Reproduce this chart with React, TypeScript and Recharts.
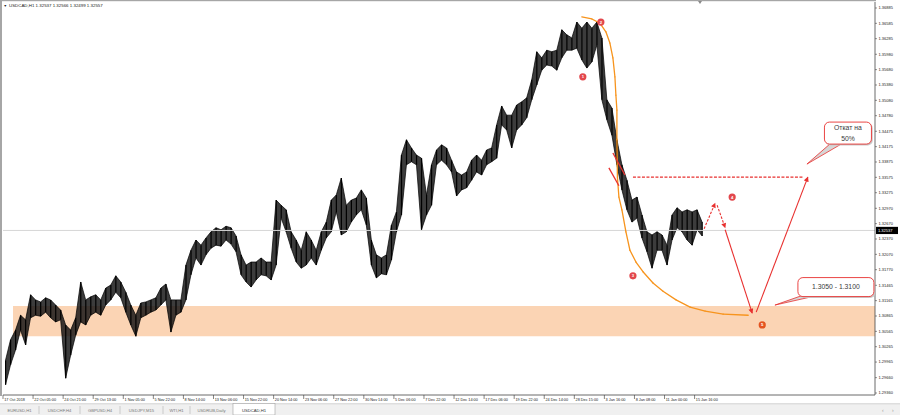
import React from "react";
import {
  ComposedChart, Area, Bar, XAxis, YAxis, ReferenceArea, ReferenceLine, ReferenceDot,
} from "recharts";

const FONT = '"Liberation Sans", Arial, sans-serif';
const RED = "#e8302f";
const ORANGE = "#f7941d";

// one slot ~ 10 H1 bars; a label every 6 slots
const SLOTS = 174;
const TIME_LABELS = [
  "17 Oct 2018", "22 Oct 05:00", "24 Oct 21:00", "29 Oct 13:00", "1 Nov 05:00", "5 Nov 22:00",
  "8 Nov 14:00", "13 Nov 06:00", "15 Nov 22:00", "20 Nov 14:00", "23 Nov 06:00", "27 Nov 22:00",
  "30 Nov 14:00", "5 Dec 06:00", "7 Dec 22:00", "12 Dec 14:00", "17 Dec 06:00", "19 Dec 22:00",
  "24 Dec 14:00", "28 Dec 15:00", "3 Jan 16:00", "8 Jan 08:00", "11 Jan 00:00", "15 Jan 16:00",
];
const PRICE_TICKS = [
  1.36885, 1.36585, 1.36285, 1.3598, 1.3568, 1.3538, 1.3508, 1.3478, 1.34475, 1.34175,
  1.33875, 1.33575, 1.33275, 1.3297, 1.3267, 1.3237, 1.3207, 1.3177, 1.31465, 1.31165,
  1.30865, 1.30565, 1.30265, 1.29965, 1.2966, 1.2936,
];

const HIGH = [
  1.3000, 1.3040, 1.3059, 1.3088, 1.3079, 1.3128, 1.3118, 1.3114, 1.3122, 1.3118,
  1.3108, 1.3098, 1.3069, 1.3059, 1.3083, 1.3153, 1.3118, 1.3124, 1.3128, 1.3118,
  1.3141, 1.3147, 1.3165, 1.3153, 1.3133, 1.3108, 1.3088, 1.3112, 1.3114, 1.3118,
  1.3122, 1.3141, 1.3149, 1.3118, 1.3118, 1.3118, 1.3186, 1.3215, 1.3235, 1.3225,
  1.3239, 1.3251, 1.3259, 1.3255, 1.3262, 1.3259, 1.3243, 1.3206, 1.3186, 1.3192,
  1.3192, 1.3200, 1.3192, 1.3192, 1.3313, 1.3303, 1.3294, 1.3251, 1.3235, 1.3215,
  1.3251, 1.3235, 1.3215, 1.3251, 1.3270, 1.3313, 1.3323, 1.3356, 1.3303, 1.3313,
  1.3317, 1.3333, 1.3317, 1.3235, 1.3206, 1.3200, 1.3206, 1.3264, 1.3290, 1.3401,
  1.3431, 1.3415, 1.3401, 1.3395, 1.3323, 1.3382, 1.3411, 1.3421, 1.3415, 1.3391,
  1.3368, 1.3362, 1.3368, 1.3391, 1.3401, 1.3391, 1.3411, 1.3415, 1.3460, 1.3497,
  1.3479, 1.3479, 1.3499, 1.3505, 1.3513, 1.3548, 1.3603, 1.3591, 1.3606, 1.3603,
  1.3606, 1.3646, 1.3636, 1.3630, 1.3661, 1.3649, 1.3661, 1.3649, 1.3661, 1.3630,
  1.3509, 1.3493, 1.3431, 1.3382, 1.3352, 1.3313, 1.3319, 1.3284, 1.3251, 1.3245,
  1.3251, 1.3245, 1.3225, 1.3284, 1.3298, 1.3290, 1.3294, 1.3290, 1.3294, 1.3270,
];
const LOW = [
  1.2952, 1.2991, 1.3020, 1.3059, 1.3030, 1.3083, 1.3088, 1.3086, 1.3094, 1.3083,
  1.3075, 1.3079, 1.2965, 1.3010, 1.3049, 1.3075, 1.3069, 1.3088, 1.3094, 1.3088,
  1.3108, 1.3118, 1.3133, 1.3122, 1.3094, 1.3069, 1.3047, 1.3083, 1.3088, 1.3094,
  1.3098, 1.3108, 1.3118, 1.3055, 1.3088, 1.3094, 1.3118, 1.3167, 1.3200, 1.3186,
  1.3206, 1.3219, 1.3225, 1.3223, 1.3235, 1.3227, 1.3212, 1.3167, 1.3153, 1.3143,
  1.3157, 1.3167, 1.3165, 1.3157, 1.3186, 1.3278, 1.3251, 1.3219, 1.3192, 1.3180,
  1.3186, 1.3200, 1.3186, 1.3215, 1.3239, 1.3251, 1.3290, 1.3245, 1.3251, 1.3270,
  1.3284, 1.3294, 1.3264, 1.3186, 1.3161, 1.3169, 1.3167, 1.3196, 1.3251, 1.3284,
  1.3382, 1.3388, 1.3382, 1.3255, 1.3284, 1.3303, 1.3382, 1.3391, 1.3382, 1.3368,
  1.3321, 1.3333, 1.3337, 1.3352, 1.3368, 1.3362, 1.3382, 1.3388, 1.3395, 1.3460,
  1.3450, 1.3415, 1.3450, 1.3460, 1.3474, 1.3509, 1.3538, 1.3567, 1.3577, 1.3575,
  1.3567, 1.3591, 1.3606, 1.3606, 1.3610, 1.3587, 1.3571, 1.3583, 1.3616, 1.3509,
  1.3470, 1.3440, 1.3382, 1.3333, 1.3294, 1.3270, 1.3278, 1.3239, 1.3212, 1.3180,
  1.3215, 1.3215, 1.3186, 1.3235, 1.3259, 1.3251, 1.3235, 1.3225, 1.3255, 1.3243,
];

const SYMBOL = "USDCAD,H1";
const OHLC = ["1.32537", "1.32566", "1.32499", "1.32557"];
const LAST_PRICE = 1.32537;
const ZONE = [1.3047, 1.3106];
const TABS = ["EURUSD,H1", "USDCHF,H4", "GBPUSD,H4", "USDJPY,M15", "WTI,H1", "USDRUB,Daily", "USDCAD,H1"];

// hand drawn markup, in (slot, price)
const ARC: [number, number][] = [
  [115.0, 1.3671], [117.0, 1.3667], [118.6, 1.3659], [119.8, 1.3642], [120.6, 1.3620],
  [121.2, 1.3591], [121.6, 1.3554], [121.8, 1.3518], [122.0, 1.3489], [122.0, 1.3431],
  [122.1, 1.3358], [122.4, 1.3319], [123.0, 1.3294], [123.8, 1.3251], [124.6, 1.3215],
  [125.8, 1.3192], [127.2, 1.3173], [129.2, 1.3151], [131.2, 1.3135], [133.8, 1.3118],
  [136.6, 1.3104], [139.6, 1.3096], [143.2, 1.3090], [148.2, 1.3088],
];
const RETRACE_LEVEL = { from: 125.2, to: 159.1, price: 1.3358 };
const ARROWS: [number, number, number, number][] = [
  [143.6, 1.3255, 149.0, 1.3092],
  [149.8, 1.3094, 160.1, 1.3358],
];
const DASHED_ARROWS: [number, number, number, number][] = [
  [139.4, 1.3257, 141.6, 1.3307],
  [142.0, 1.3303, 143.6, 1.3259],
];
const CHANNEL: [number, number, number, number][] = [
  [121.2, 1.3405, 123.6, 1.3362],
  [120.4, 1.3376, 122.4, 1.3341],
];
const WAVES: [number, number, string][] = [
  [115.2, 1.3554, "1"], [118.8, 1.3661, "2"], [125.2, 1.3165, "3"], [145.0, 1.3319, "4"], [151.0, 1.3069, "5"],
];
const NOTES: { x: number; y: number; text: string[] }[] = [
  { x: 168.1, y: 1.3444, text: ["Откат на", "50%"] },
  { x: 165.7, y: 1.3143, text: ["1.3050 - 1.3100"] },
];
// box w, h, tail base offsets and tip offset (px from box centre)
const NOTE_BOX = [
  { w: 47, h: 22, b1: -17, b2: -5, tx: -41, ty: 31 },
  { w: 76, h: 19, b1: -34, b2: -19, tx: -61, ty: 18 },
];

const rows = Array.from({ length: SLOTS }, (_, i) => ({
  i,
  range: i < HIGH.length ? [LOW[i], HIGH[i]] : undefined,
}));
const tickIdx = TIME_LABELS.map((_, k) => k * 6);

function TimeTick({ x = 0, y = 0, payload }: any) {
  const left = x - 2.5;
  return (
    <g>
      <line x1={left} x2={left} y1={y} y2={y + 4} stroke="#333" strokeWidth={0.6} />
      <text x={left + 1.2} y={y + 5.6} fontSize={3.8} fill="#222">{TIME_LABELS[payload.value / 6]}</text>
    </g>
  );
}

function WaveDot({ cx, cy, n }: { cx: number; cy: number; n: string }) {
  return (
    <g>
      <circle cx={cx} cy={cy} r={3.6} fill={n === "5" ? "#e4531f" : "#e2474c"} />
      <text x={cx} y={cy + 1.5} textAnchor="middle" fontSize={4.2} fontWeight="bold" fill="#fff">{n}</text>
    </g>
  );
}

function Note({ cx, cy, text, box }: { cx: number; cy: number; text: string[]; box: (typeof NOTE_BOX)[number] }) {
  const x = cx - box.w / 2;
  const y = cy - box.h / 2;
  const base = y + box.h - 1;
  return (
    <g>
      <polygon points={`${cx + box.b1},${base} ${cx + box.tx},${cy + box.ty} ${cx + box.b2},${base}`} fill="#d6d6d6" stroke={RED} strokeWidth={0.8} />
      <rect x={x + 1.3} y={y + 1.3} width={box.w} height={box.h} rx={5} fill="#c9c9c9" />
      <rect x={x} y={y} width={box.w} height={box.h} rx={5} fill="#fff" stroke={RED} strokeWidth={0.9} />
      {text.map((t, k) => (
        <text key={k} x={cx} y={cy + (k - (text.length - 1) / 2) * 10.5 + 2.4} textAnchor="middle" fontSize={6.8} fill="#3a3a3a">{t}</text>
      ))}
    </g>
  );
}

function PriceTag({ cx, cy }: { cx: number; cy: number }) {
  return (
    <g>
      <rect x={cx + 1} y={cy - 3.6} width={22} height={7.2} fill="#000" />
      <text x={cx + 3} y={cy + 1.5} fontSize={4} fill="#fff">{LAST_PRICE.toFixed(5)}</text>
    </g>
  );
}

const seg = (a: number, b: number, c: number, d: number) => [{ x: a, y: b }, { x: c, y: d }];

export default function App() {
  const tabEdges = [0, 39, 80, 120, 163, 190, 233, 275];
  return (
    <div style={{ position: "absolute", left: 0, top: 0, width: 900, height: 415, background: "#fff", fontFamily: FONT, overflow: "hidden" }}>
      <svg width={0} height={0} style={{ position: "absolute" }}>
        <defs>
          <marker id="ah" viewBox="0 0 10 10" refX={9} refY={5} markerWidth={6} markerHeight={5} markerUnits="userSpaceOnUse" orient="auto">
            <path d="M0,0 L10,5 L0,10 z" fill={RED} />
          </marker>
        </defs>
      </svg>
      <div style={{ position: "absolute", left: 0, top: 0 }}>
        <ComposedChart width={900} height={405} data={rows} margin={{ top: 2, right: 0, bottom: 0, left: 3 }} barCategoryGap={0} barGap={0}>
          <XAxis dataKey="i" type="category" ticks={tickIdx} interval={0} tick={<TimeTick />} tickLine={false} tickSize={0} tickMargin={0} height={10} axisLine={{ stroke: "#444", strokeWidth: 0.8 }} />
          <XAxis xAxisId="n" dataKey="x" type="number" domain={[-0.5, SLOTS - 0.5]} allowDataOverflow hide />
          <YAxis orientation="right" type="number" domain={[1.29321, 1.37002]} allowDataOverflow ticks={PRICE_TICKS} interval={0}
            tickFormatter={(v: number) => v.toFixed(5)} width={25} tickSize={2} tickMargin={1.5}
            axisLine={{ stroke: "#444", strokeWidth: 0.8 }} tickLine={{ stroke: "#444", strokeWidth: 0.6 }} tick={{ fontSize: 4, fill: "#222" }} />
          <ReferenceArea xAxisId="n" x1={1.5} x2={SLOTS - 0.5} y1={ZONE[0]} y2={ZONE[1]} fill="#fbd4b4" fillOpacity={1} stroke="none" ifOverflow="visible" />
          <ReferenceLine y={LAST_PRICE} stroke="#d6d6d6" strokeWidth={1} />
          <Area dataKey="range" type="linear" fill="#111" fillOpacity={0.82} stroke="#000" strokeWidth={0.7} dot={false} activeDot={false} isAnimationActive={false} />
          <Bar dataKey="range" fill="#000" barSize={1.2} isAnimationActive={false} />
          {ARC.slice(1).map((p, k) => (
            <ReferenceLine key={"arc" + k} xAxisId="n" segment={seg(ARC[k][0], ARC[k][1], p[0], p[1])} stroke={ORANGE} strokeWidth={1.3} strokeLinecap="round" />
          ))}
          <ReferenceLine xAxisId="n" segment={seg(RETRACE_LEVEL.from, RETRACE_LEVEL.price, RETRACE_LEVEL.to, RETRACE_LEVEL.price)} stroke={RED} strokeWidth={1.2} strokeDasharray="3 1.5" />
          {CHANNEL.map((s, k) => (
            <ReferenceLine key={"ch" + k} xAxisId="n" segment={seg(...s)} stroke={RED} strokeWidth={1.3} />
          ))}
          {ARROWS.map((s, k) => (
            <ReferenceLine key={"ar" + k} xAxisId="n" segment={seg(...s)} stroke={RED} strokeWidth={1.1} markerEnd="url(#ah)" />
          ))}
          {DASHED_ARROWS.map((s, k) => (
            <ReferenceLine key={"da" + k} xAxisId="n" segment={seg(...s)} stroke={RED} strokeWidth={1.1} strokeDasharray="2.5 1.5" markerEnd="url(#ah)" />
          ))}
          {WAVES.map(([x, y, n]) => (
            <ReferenceDot key={"w" + n} xAxisId="n" x={x} y={y} ifOverflow="visible" shape={(p: any) => <WaveDot cx={p.cx} cy={p.cy} n={n} />} />
          ))}
          {NOTES.map((m, k) => (
            <ReferenceDot key={"note" + k} xAxisId="n" x={m.x} y={m.y} ifOverflow="visible" shape={(p: any) => <Note cx={p.cx} cy={p.cy} text={m.text} box={NOTE_BOX[k]} />} />
          ))}
          <ReferenceDot xAxisId="n" x={SLOTS - 0.5} y={LAST_PRICE} ifOverflow="visible" shape={(p: any) => <PriceTag cx={p.cx} cy={p.cy} />} />
        </ComposedChart>
      </div>
      <svg width={900} height={415} style={{ position: "absolute", left: 0, top: 0, pointerEvents: "none" }}>
        <rect x={0} y={0} width={2} height={396} fill="#a6a6a6" />
        <rect x={0} y={0} width={876} height={1.2} fill="#a6a6a6" />
        <polygon points="698,1 702,1 700,4" fill="#8a8a8a" />
        <text x={3.5} y={7} fontSize={3.6} fill="#222">▼</text>
        <text x={9} y={7.2} fontSize={4.4} fill="#222">{SYMBOL + "  " + OHLC.join(" ")}</text>
        <rect x={0} y={403.5} width={900} height={11.5} fill="#f0f0f0" />
        <line x1={0} x2={900} y1={403.8} y2={403.8} stroke="#c4c4c4" strokeWidth={0.7} />
        <rect x={tabEdges[6]} y={403.5} width={tabEdges[7] - tabEdges[6]} height={11.5} fill="#fff" stroke="#a0a0a0" strokeWidth={0.6} />
        {TABS.map((t, k) => (
          <g key={t}>
            {k > 0 && k < 6 && <line x1={tabEdges[k]} x2={tabEdges[k]} y1={406} y2={414} stroke="#b4b4b4" strokeWidth={0.6} />}
            <text x={(tabEdges[k] + tabEdges[k + 1]) / 2} y={412.2} textAnchor="middle" fontSize={4.2} fill={k === 6 ? "#333" : "#777"}>{t}</text>
          </g>
        ))}
        <text x={882} y={412} fontSize={5} fill="#999">‹</text>
        <text x={892} y={412} fontSize={5} fill="#999">›</text>
      </svg>
    </div>
  );
}
